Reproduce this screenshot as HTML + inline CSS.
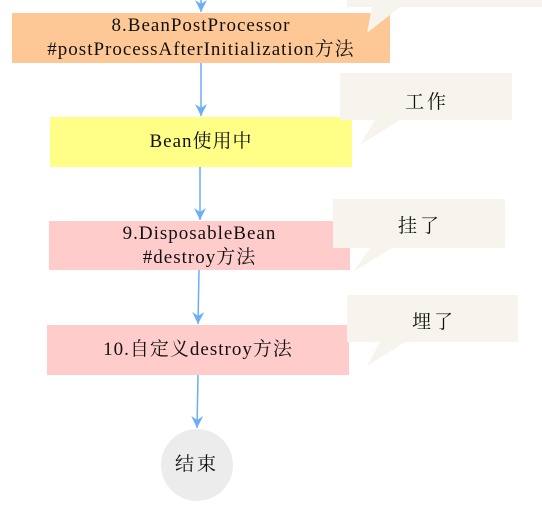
<!DOCTYPE html>
<html><head><meta charset="utf-8"><style>
body{margin:0;width:542px;height:509px;background:#fff;overflow:hidden;position:relative;font-family:"Liberation Serif","Noto Serif CJK SC",serif;color:#111}
.box{position:absolute;display:flex;align-items:center;justify-content:center;text-align:center;font-size:19px;line-height:24px;letter-spacing:1px;white-space:nowrap}
.t{position:absolute;font-size:19px;letter-spacing:3px}
</style></head><body>
<svg width="542" height="509" style="position:absolute;left:0;top:0">
<defs><marker id="a" markerWidth="14" markerHeight="14" refX="12" refY="6" orient="auto" markerUnits="userSpaceOnUse"><path d="M0,0 L12,6 L0,12 L4,6 Z" fill="#6aaef5"/></marker></defs>
<rect x="12" y="13" width="378" height="50" fill="#fdc896"/>
<rect x="50" y="117" width="302" height="50" fill="#ffff88"/>
<rect x="49" y="221" width="301" height="49" fill="#ffcccc"/>
<rect x="47" y="325" width="302" height="50" fill="#ffcccc"/>
<circle cx="197" cy="465" r="36" fill="#ececec"/>
<g stroke="#6aaef5" stroke-width="1.5" fill="none">
<line x1="201" y1="0" x2="201" y2="12" marker-end="url(#a)"/>
<line x1="201" y1="63" x2="201" y2="116" marker-end="url(#a)"/>
<line x1="200" y1="167" x2="200" y2="220" marker-end="url(#a)"/>
<line x1="199" y1="270" x2="198" y2="324" marker-end="url(#a)"/>
<line x1="198" y1="375" x2="197" y2="428" marker-end="url(#a)"/>
</g>
<g fill="#f6f4ec">
<rect x="347" y="0" width="195" height="7"/><polygon points="372,7 400,7 367,33"/>
<rect x="340" y="73" width="172" height="47"/><polygon points="375,120 400,120 360,145"/>
<rect x="333" y="199" width="172" height="49"/><polygon points="370,248 392,248 353,272"/>
<rect x="347" y="295" width="171" height="47"/><polygon points="380,342 405,342 367,366"/>
</g>
</svg>
<div class="box" style="left:12px;top:13px;width:378px;height:50px">8.BeanPostProcessor<br>#postProcessAfterInitialization方法</div>
<div class="box" style="left:50px;top:117px;width:302px;height:50px">Bean使用中</div>
<div class="box" style="left:49px;top:221px;width:301px;height:49px">9.DisposableBean<br>#destroy方法</div>
<div class="box" style="left:47px;top:325px;width:302px;height:50px">10.自定义destroy方法</div>
<div class="box" style="left:161px;top:429px;width:72px;height:72px;letter-spacing:3px">结束</div>
<div class="t" style="left:405px;top:87px">工作</div>
<div class="t" style="left:398px;top:211px">挂了</div>
<div class="t" style="left:412px;top:307px">埋了</div>
</body></html>
